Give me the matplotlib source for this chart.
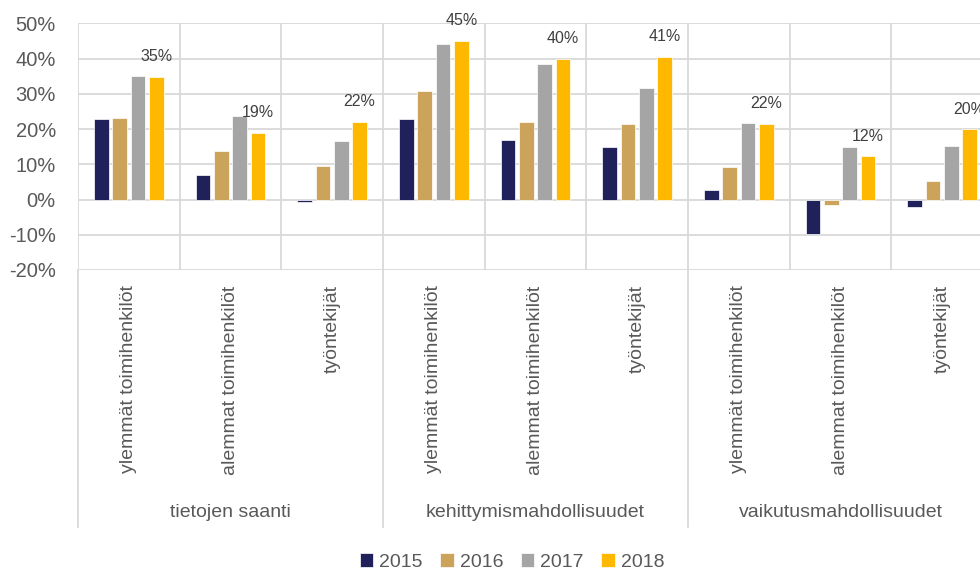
import numpy as np
import matplotlib.pyplot as plt
from matplotlib.transforms import blended_transform_factory

plt.rcParams['font.family'] = ['Liberation Sans', 'DejaVu Sans']

groups = ['tietojen saanti', 'kehittymismahdollisuudet', 'vaikutusmahdollisuudet']
roles = ['ylemmät toimihenkilöt', 'alemmat toimihenkilöt', 'työntekijät']
years = ['2015', '2016', '2017', '2018']

v2015 = [22.8, 7.1, -0.8, 22.8, 17.0, 14.8, 2.6, -9.8, -2.0]
v2016 = [23.1, 13.7, 9.6, 30.8, 21.9, 21.6, 9.2, -1.5, 5.4]
v2017 = [35.2, 23.8, 16.5, 44.2, 38.5, 31.6, 21.7, 15.0, 15.2]
v2018 = [34.8, 18.9, 22.1, 45.0, 39.9, 40.6, 21.5, 12.3, 19.9]
labels2018 = ['35%', '19%', '22%', '45%', '40%', '41%', '22%', '12%', '20%']

colors = ['#20205A', '#CCA35A', '#A5A5A5', '#FFB800']
grid_c = '#D9D9D9'
text_c = '#595959'

fig = plt.figure(figsize=(9.8, 5.71), dpi=100)
ax = fig.add_axes([78 / 980, 1 - 270 / 571, 915 / 980, 246.5 / 571])

series = [v2015, v2016, v2017, v2018]
n = len(groups) * len(roles)
x = np.arange(n)
pitch = 0.18
width = 0.143
bars = []
for i, vals in enumerate(series):
    b = ax.bar(x + (i - 1.5) * pitch, vals, width, color=colors[i],
               edgecolor='white', linewidth=0.5, label=years[i], zorder=3)
    bars.append(b)

for xi, v, lab in zip(x + 1.5 * pitch, v2018, labels2018):
    ax.annotate(lab, (xi, v), xytext=(0, 14.5), textcoords='offset points',
                ha='center', va='center', fontsize=11.5, color='#404040',
                zorder=4)

ax.set_xlim(-0.5, n - 0.5)
ax.set_ylim(-20, 50)
ax.set_yticks(np.arange(-20, 51, 10))
ax.set_yticklabels([f'{t}%' for t in range(-20, 51, 10)])
ax.yaxis.grid(True, color=grid_c, linewidth=1.3, zorder=0)
for xv in np.arange(n + 1) - 0.5:
    ax.axvline(xv, color=grid_c, linewidth=1.3, zorder=0)
for s in ax.spines.values():
    s.set_visible(False)

ax.set_xticks(x)
ax.set_xticklabels(roles * len(groups), rotation=90, va='top', ha='center')
ax.tick_params(axis='x', length=0, pad=11, labelsize=14, labelcolor=text_c)
ax.tick_params(axis='y', length=0, pad=16, labelsize=14.5, labelcolor=text_c)

trans = blended_transform_factory(ax.transData, ax.transAxes)
for g in range(len(groups) + 1):
    ax.plot([g * 3 - 0.5, g * 3 - 0.5], [0, -1.043], transform=trans,
            color=grid_c, linewidth=1.3, clip_on=False)
for g, name in enumerate(groups):
    ax.text(g * 3 + 1, -0.985, name, transform=trans, ha='center', va='center',
            fontsize=14, color=text_c)

fig.legend(handles=bars, labels=years, loc='center', ncol=4,
           bbox_to_anchor=(512 / 980, 1 - 562 / 571), frameon=False,
           fontsize=14, labelcolor=text_c, handlelength=0.7, handleheight=0.7,
           handletextpad=0.3, columnspacing=0.9)

fig.savefig('out.png', dpi=100)
